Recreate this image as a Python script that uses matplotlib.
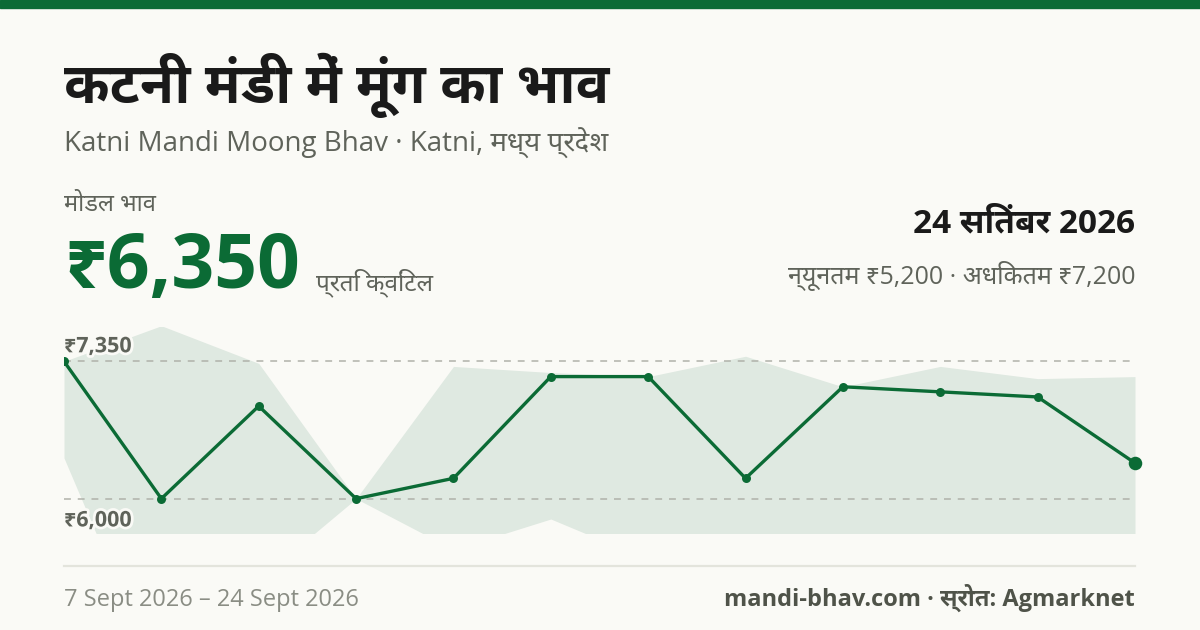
import matplotlib
matplotlib.use("Agg")
import matplotlib.pyplot as plt
import matplotlib.patheffects as pe
from matplotlib.patches import Rectangle
from matplotlib.lines import Line2D

# ---- data ----
dates = ["7 Sep", "8 Sep", "9 Sep", "10 Sep", "11 Sep", "12 Sep", "13 Sep",
         "15 Sep", "16 Sep", "18 Sep", "22 Sep", "24 Sep"]
modal = [7350, 6000, 6910, 6000, 6200, 7200, 7200, 6200, 7100, 7050, 7000, 6350]
max_price = [7350, 7700, 7330, 6000, 7300, 7240, 7200, 7400, 7100, 7300, 7180, 7200]
min_price = [6400, 4150, 5200, 6000, 5500, 5800, 5400, 5300, 5400, 5300, 5200, 5200]

title = "कटनी मंडी में मूंग का भाव"
subtitle = "Katni Mandi Moong Bhav · Katni, मध्य प्रदेश"
modal_label = "मोडल भाव"
modal_value = "₹6,350"
unit_label = "प्रति क्विंटल"
date_label = "24 सितंबर 2026"
range_label = "न्यूनतम ₹5,200 · अधिकतम ₹7,200"
footer_left = "7 Sept 2026 – 24 Sept 2026"
footer_right = "mandi-bhav.com · स्रोत: Agmarknet"

plt.rcParams["font.family"] = ["Open Sans", "Noto Sans Devanagari UI", "DejaVu Sans"]

BG = "#fafaf6"
GREEN = "#0b6b35"
BAND = "#dfe9e1"
GRAY = "#5f635a"
LGRAY = "#8a8d84"
DARK = "#1a1a1a"

W, H = 1200, 630
fig = plt.figure(figsize=(12, 6.3), dpi=100, facecolor=BG)

def fx(x): return x / W
def fy(y): return 1 - y / H

fig.patches.append(Rectangle((0, fy(8)), 1, 8 / H, transform=fig.transFigure,
                             color=GREEN, zorder=0))

fig.text(fx(64), fy(103), title, fontsize=40, fontweight="bold", color=DARK,
         ha="left", va="baseline")
fig.text(fx(64), fy(152), subtitle, fontsize=20, color=GRAY, ha="left", va="baseline")
fig.text(fx(64), fy(211), modal_label, fontsize=17, color=GRAY, ha="left", va="baseline")
fig.text(fx(64), fy(288), modal_value, fontsize=54, fontweight="bold", color=GREEN,
         ha="left", va="baseline")
fig.text(fx(316), fy(290), unit_label, fontsize=17.5, color=GRAY, ha="left", va="baseline")
fig.text(fx(1135), fy(232), date_label, fontsize=24, fontweight="bold", color=DARK,
         ha="right", va="baseline")
fig.text(fx(1135), fy(284), range_label, fontsize=18, color=GRAY, ha="right", va="baseline")

fig.lines.append(Line2D([fx(64), fx(1135)], [fy(566), fy(566)], transform=fig.transFigure,
                        color="#e3e4dc", lw=1.6))
fig.text(fx(64), fy(606), footer_left, fontsize=17, color=LGRAY, ha="left", va="baseline")
fig.text(fx(1135), fy(606), footer_right, fontsize=17, fontweight="bold", color="#4f5349",
         ha="right", va="baseline")

# ---- chart ----
ax = fig.add_axes([fx(64), fy(533), (1135 - 64) / W, (533 - 327) / H])
ax.set_facecolor("none")
x = list(range(len(modal)))
lo, hi = min(modal), max(modal)
pad = (hi - lo) * 0.25
ax.set_ylim(lo - pad, hi + pad)
ax.set_xlim(0, len(modal) - 1)
ax.fill_between(x, min_price, max_price, color=BAND, lw=0, zorder=1)
for v in (hi, lo):
    ax.axhline(v, color="#b0b2aa", lw=1.1, ls=(0, (4.5, 4.5)), zorder=2)
ax.plot(x, modal, color=GREEN, lw=2.4, zorder=3, solid_joinstyle="round")
ax.scatter(x[:-1], modal[:-1], s=42, color=GREEN, zorder=4, lw=0)
ax.scatter(x[-1:], modal[-1:], s=95, color=GREEN, zorder=4, lw=0, clip_on=False)
stroke = [pe.withStroke(linewidth=4, foreground=BG)]
ax.annotate(f"₹{hi:,}", (0, hi), xytext=(0, 6.5), textcoords="offset points",
            fontsize=15.5, fontweight="bold", color=GRAY, ha="left", va="baseline",
            path_effects=stroke, zorder=5)
ax.annotate(f"₹{lo:,}", (0, lo), xytext=(0, -20), textcoords="offset points",
            fontsize=15.5, fontweight="bold", color=GRAY, ha="left", va="baseline",
            path_effects=stroke, zorder=5)
ax.set_xticks([])
ax.set_yticks([])
for s in ax.spines.values():
    s.set_visible(False)

fig.savefig("out.png", dpi=100, facecolor=BG)
